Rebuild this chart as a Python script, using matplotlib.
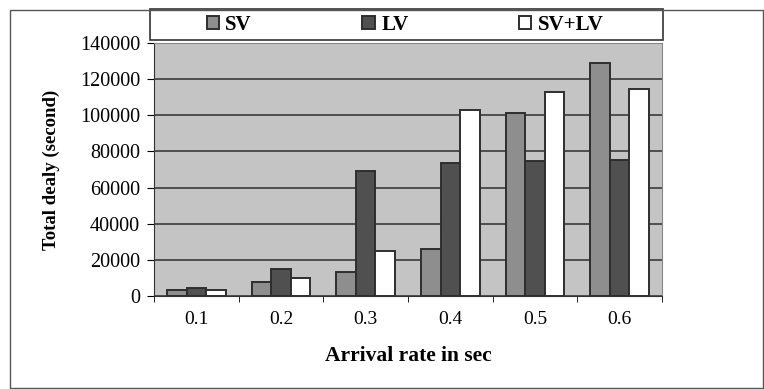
import matplotlib.pyplot as plt
import numpy as np
from matplotlib.patches import Rectangle

rates = ["0.1", "0.2", "0.3", "0.4", "0.5", "0.6"]
sv = [3500, 8000, 13500, 26000, 101000, 129000]
lv = [4500, 15000, 69000, 73500, 74500, 75000]
sv_lv = [3500, 10000, 25000, 103000, 113000, 114500]

plt.rcParams["font.family"] = ["Liberation Serif", "DejaVu Serif"]

fig = plt.figure(figsize=(7.64, 3.89), dpi=100)
ax = fig.add_axes([154 / 764, 1 - 296 / 389, 508 / 764, 253 / 389])
ax.set_facecolor("#c4c4c4")

x = np.arange(len(rates))
w = 0.23
ax.bar(x - w, sv, w, color="#8e8e8e", edgecolor="#2e2e2e", linewidth=1.4, label="SV", zorder=3)
ax.bar(x, lv, w, color="#505050", edgecolor="#2e2e2e", linewidth=1.4, label="LV", zorder=3)
ax.bar(x + w, sv_lv, w, color="white", edgecolor="#2e2e2e", linewidth=1.4, label="SV+LV", zorder=3)

ax.set_ylim(0, 140000)
ax.set_xlim(-0.5, len(rates) - 0.5)
ax.set_yticks(range(0, 140001, 20000))
ax.yaxis.grid(True, color="#3a3a3a", linewidth=1.2, zorder=1)
ax.set_xticks(x)
ax.set_xticklabels(rates, fontsize=14)
ax.set_xticks(np.arange(-0.5, len(rates)), minor=True)
ax.tick_params(axis="x", which="major", length=0, pad=11)
ax.tick_params(axis="x", which="minor", length=4, direction="out")
ax.tick_params(axis="y", labelsize=14.5, length=5, direction="out", pad=5)
for s in ["top", "right"]:
    ax.spines[s].set_color("#888888")
ax.spines["left"].set_color("#333333")
ax.spines["bottom"].set_color("#333333")

ax.set_xlabel("Arrival rate in sec", fontsize=15.5, fontweight="bold", labelpad=13)
ax.set_ylabel("Total dealy (second)", fontsize=13.5, fontweight="bold", labelpad=14)

# legend box across the top
fig.patches.append(Rectangle((150 / 764, 1 - 40 / 389), 513 / 764, 31 / 389, transform=fig.transFigure,
                             fill=False, edgecolor="#333333", linewidth=1.2))
leg = fig.legend(loc="center", bbox_to_anchor=(405 / 764, 1 - 25 / 389),
                 ncol=3, frameon=False, prop={"weight": "bold", "size": 15},
                 handlelength=0.6, handleheight=0.6, handletextpad=0.3, columnspacing=5.3,
                 borderaxespad=0)

fig.patches.append(Rectangle((10 / 764, 1 / 389), 753 / 764, 378 / 389, transform=fig.transFigure,
                             fill=False, edgecolor="#555555", linewidth=1.0))

fig.savefig("out.png", dpi=100)
